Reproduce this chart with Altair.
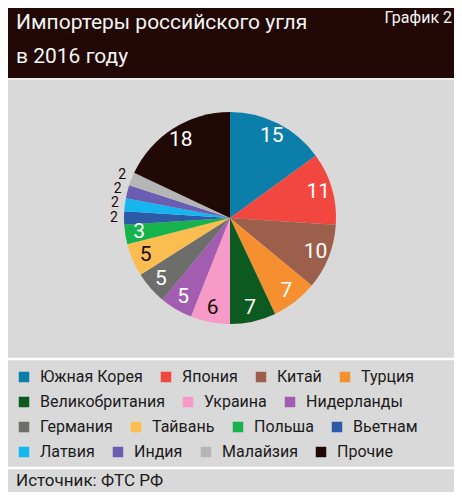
import altair as alt
import pandas as pd

countries = ["Южная Корея", "Япония", "Китай", "Турция", "Великобритания", "Украина",
             "Нидерланды", "Германия", "Тайвань", "Польша", "Вьетнам", "Латвия",
             "Индия", "Малайзия", "Прочие"]
shares = [15, 11, 10, 7, 7, 6, 5, 5, 5, 3, 2, 2, 2, 2, 18]
colors = ["#0b7fa9", "#f2473f", "#9b5f4b", "#f68f30", "#0c5a1f", "#f79ac7",
          "#a35db0", "#6d6d6b", "#fbbd50", "#16b34c", "#2c5aa7", "#15b5ee",
          "#6b5db1", "#b5b5b5", "#200805"]
legend_rows = [(0, 4), (4, 7), (7, 11), (11, 15)]
title_lines = ["Импортеры российского угля", "в 2016 году"]
chart_no = "График 2"
source = "Источник: ФТС РФ"
dark_label_countries = ["Украина", "Тайвань"]

FONT = "Roboto, sans-serif"
W, H = 446, 484
CX, CY, R = 222, 210, 106

df = pd.DataFrame({"country": countries, "share": shares, "idx": list(range(len(countries)))})
one = pd.DataFrame({"k": [0]})

base = alt.Chart(df).encode(
    theta=alt.Theta("share:Q", stack=True),
    order=alt.Order("idx:Q"),
)

pie = base.mark_arc(outerRadius=R, strokeWidth=0).encode(
    color=alt.Color("country:N", sort=countries,
                    scale=alt.Scale(domain=countries, range=colors), legend=None),
    x=alt.value(CX), y=alt.value(CY),
)

inside = base.mark_text(radius=92, font=FONT, fontSize=21).encode(
    text="share:Q",
    x=alt.value(CX), y=alt.value(CY),
    color=alt.condition(alt.FieldOneOfPredicate(field="country", oneOf=dark_label_countries),
                        alt.value("#1a0a05"), alt.value("#ffffff")),
    opacity=alt.condition("datum.share >= 3", alt.value(1), alt.value(0)),
)

outside = base.mark_text(radius=116, font=FONT, fontSize=14, color="#1a0a05").encode(
    text="share:Q",
    x=alt.value(CX), y=alt.value(CY),
    opacity=alt.condition("datum.share < 3", alt.value(1), alt.value(0)),
)

legend_layers = []
for i, (a, b) in enumerate(legend_rows):
    names = countries[a:b]
    sub = pd.DataFrame({"country": names})
    legend_layers.append(
        alt.Chart(sub).mark_square(size=0, filled=True).encode(
            x=alt.value(0), y=alt.value(0),
            color=alt.Color(
                "country:N", sort=names,
                scale=alt.Scale(domain=names, range=colors[a:b]),
                legend=alt.Legend(
                    title=None, orient="none", legendX=8, legendY=361 + 25 * i,
                    direction="horizontal",
                    symbolType="square", symbolSize=110, symbolStrokeWidth=0,
                    symbolOpacity=1, labelFont=FONT, labelFontSize=16,
                    labelColor="#1b1b1b", labelOffset=8, columnPadding=15,
                    labelLimit=250,
                ),
            ),
        )
    )

header = alt.Chart(one).mark_rect(color="#210805").encode(
    x=alt.value(0), x2=alt.value(W), y=alt.value(0), y2=alt.value(70))
header_line = alt.Chart(one).mark_rule(color="#eeeeee", strokeWidth=2).encode(
    x=alt.value(0), x2=alt.value(W), y=alt.value(71))
line1 = alt.Chart(one).mark_rule(color="#ffffff", strokeWidth=2.5).encode(
    x=alt.value(0), x2=alt.value(W), y=alt.value(351))
line2 = alt.Chart(one).mark_rule(color="#ffffff", strokeWidth=2.5).encode(
    x=alt.value(0), x2=alt.value(W), y=alt.value(460))

title = alt.Chart(one).mark_text(
    align="left", baseline="alphabetic", font=FONT, fontSize=21,
    color="#f4f4f4", lineHeight=34).encode(
    x=alt.value(8), y=alt.value(21), text=alt.value(title_lines))
num = alt.Chart(one).mark_text(
    align="right", baseline="alphabetic", font=FONT, fontSize=16, color="#f4f4f4").encode(
    x=alt.value(444), y=alt.value(15), text=alt.value(chart_no))
src = alt.Chart(one).mark_text(
    align="left", baseline="alphabetic", font=FONT, fontSize=17, color="#1b1b1b").encode(
    x=alt.value(8), y=alt.value(478), text=alt.value(source))

chart = alt.layer(
    header, header_line, line1, line2, pie, inside, outside, *legend_layers, title, num, src
).resolve_scale(color="independent").properties(
    width=W, height=H, padding=0,
    autosize=alt.AutoSizeParams(type="none"),
    background="#d9d9d9",
).configure_view(stroke=None)

chart.save("out.html", embed_options={"renderer": "svg", "actions": False})
